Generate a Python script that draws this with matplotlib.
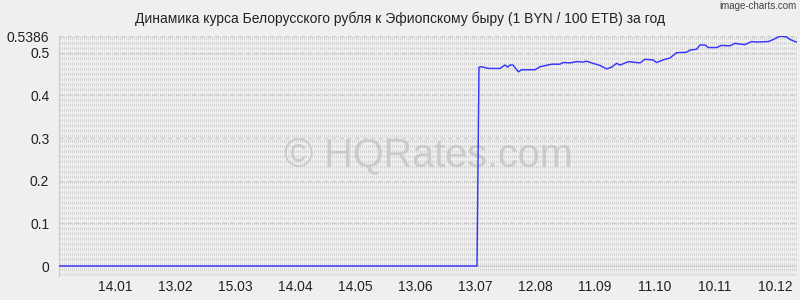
import matplotlib
matplotlib.use("Agg")
import matplotlib.pyplot as plt
import numpy as np

# ---- data (x = day index from start of period) ----
days = [0, 209, 210, 211.3, 213.8, 215.5, 220.5, 223, 224.3, 225.5, 227, 229.7, 231.3,
        236.3, 238, 240.5, 246.3, 250.5, 252, 255.5, 258.8, 262, 263.8, 267, 270.5,
        273.8, 276.3, 278.8, 280.5, 284.7, 290.5, 293, 297, 298.8, 302, 305.5, 308.8,
        313.8, 315.5, 317, 318.8, 320.5, 323, 324.7, 328.8, 331.3, 335.5, 338, 340.5,
        343, 346.3, 348.8, 354.7, 357.2, 360.5, 363.8, 365.5, 368, 369]
rates = [0, 0, 0.466, 0.467, 0.464, 0.463, 0.463, 0.471, 0.466, 0.471, 0.471, 0.455, 0.460,
         0.460, 0.460, 0.467, 0.473, 0.473, 0.477, 0.476, 0.479, 0.478, 0.480, 0.475, 0.470,
         0.462, 0.466, 0.475, 0.471, 0.479, 0.476, 0.4845, 0.483, 0.477, 0.483, 0.4876, 0.500,
         0.501, 0.506, 0.507, 0.508, 0.518, 0.518, 0.512, 0.512, 0.517, 0.516, 0.522, 0.520,
         0.519, 0.526, 0.525, 0.526, 0.531, 0.5386, 0.537, 0.531, 0.526, 0.525]
tick_days = [28, 58, 88, 118, 148, 178, 208, 238, 268, 298, 328, 358]
tick_labels = ["14.01", "13.02", "15.03", "14.04", "14.05", "13.06", "13.07",
               "12.08", "11.09", "11.10", "10.11", "10.12"]
y_ticks = [0, 0.1, 0.2, 0.3, 0.4, 0.5, 0.5386]
y_labels = ["0", "0.1", "0.2", "0.3", "0.4", "0.5", "0.5386"]
title = "Динамика курса Белорусского рубля к Эфиопскому быру (1 BYN / 100 ETB) за год"

BG = "#efefef"
plt.rcParams['font.family'] = ['Liberation Sans', 'DejaVu Sans']

fig = plt.figure(figsize=(8, 3), dpi=100, facecolor=BG)
ax = fig.add_axes([59/800, 1-275.7/300, (797-59)/800, (275.7-36.2)/300])
ax.set_facecolor(BG)
ymin, ymax = -0.0227, 0.5386
ax.set_xlim(0, 369)
ax.set_ylim(ymin, ymax)

# dense textured vertical grid
ax.vlines(np.arange(0.5, 369, 1), ymin, ymax, colors="#d2d2d2", linewidth=0.65,
          linestyles=(0, (3.2, 2.5)), zorder=0)
# horizontal dashed grid
for yv in y_ticks[1:]:
    ax.axhline(yv, color="#cdcdcd", lw=0.8, ls=(0, (4, 3)), zorder=1)
ax.axhline(0, color="#cccccc", lw=0.8, zorder=1)

ax.plot(days, rates, color="#3535ff", lw=1.05, zorder=3)

ax.set_xticks(tick_days)
ax.set_xticklabels(tick_labels)
ax.set_yticks(y_ticks)
ax.set_yticklabels(y_labels)
ax.tick_params(axis="both", length=0, labelsize=10, colors="#222222")
ax.tick_params(axis="y", pad=7)
ax.tick_params(axis="x", pad=3)
for s in ["top", "right", "bottom"]:
    ax.spines[s].set_visible(False)
ax.spines["left"].set_color("#cccccc")
ax.spines["left"].set_linewidth(0.8)

fig.text(400/800, 1-18.5/300, title, ha="center", va="center", fontsize=10, color="#222222")
fig.text(797/800, 1-6/300, "image-charts.com", ha="right", va="center", fontsize=7,
         color="#444444")
ax.text(0.5, 0.5, "© HQRates.com", transform=ax.transAxes, ha="center", va="center",
        fontsize=28.5, color="#c4c4c4", alpha=0.8, zorder=2)

fig.savefig("out.png", dpi=100, facecolor=BG)
